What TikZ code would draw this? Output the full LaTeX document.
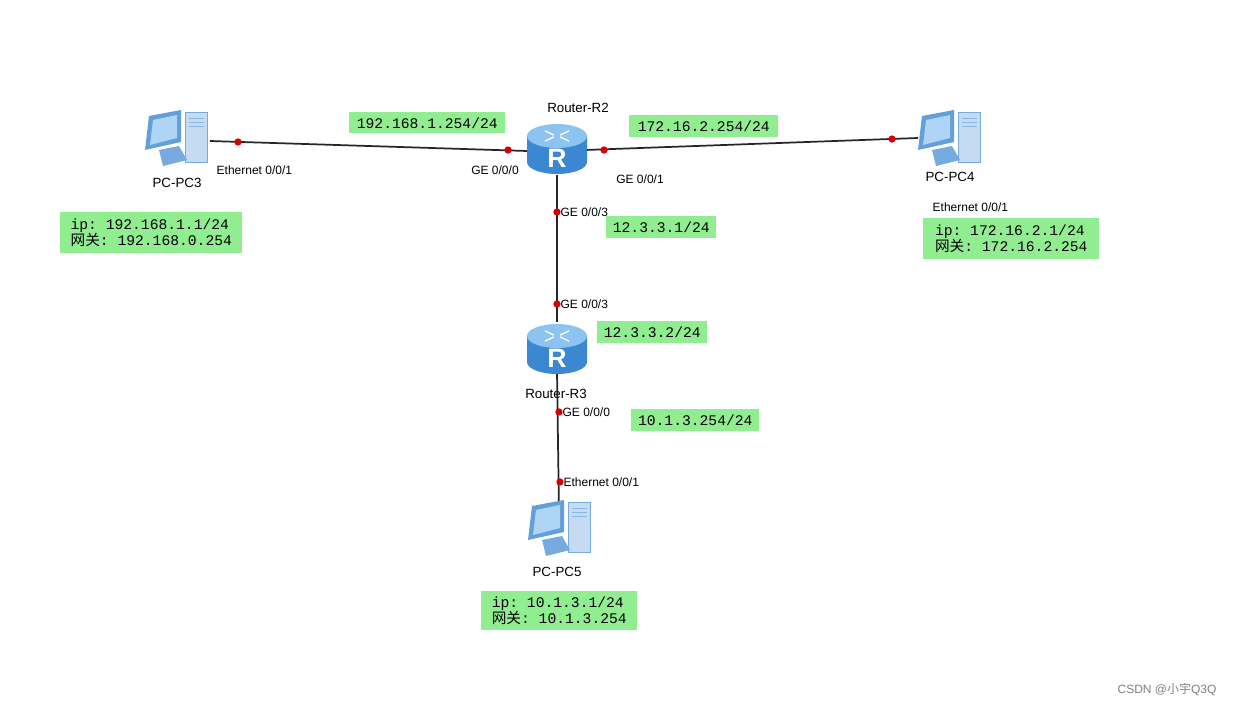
\documentclass[tikz,border=0pt]{standalone}
\usepackage{fontspec}
\setmainfont{Liberation Sans}
\setmonofont{Liberation Mono}
\newfontfamily\cjk{Noto Sans CJK SC}
\begin{document}
\begin{tikzpicture}[x=0.75pt,y=-0.75pt,
  lnk/.style={line width=1.3pt,black!85},
  dot/.style={circle,fill=red!85!black,inner sep=0pt,minimum size=5.5pt},
  port/.style={font=\fontsize{9}{10}\selectfont},
  nm/.style={font=\fontsize{10}{11}\selectfont},
  ipb/.style={fill=cgreen,inner sep=2pt,font=\fontsize{11}{12}\ttfamily\selectfont,align=left},
]
\definecolor{cgreen}{RGB}{144,238,144}
\definecolor{rblue}{RGB}{60,135,210}
\definecolor{rtop}{RGB}{140,195,240}
\useasboundingbox (0,0) rectangle (1238,706);
\tikzset{
 pc/.pic={
  \fill[rblue!30] (8,-28) rectangle (30,22);
  \draw[rblue!70,line width=0.4pt] (8,-28) rectangle (30,22);
  \foreach \yy in {-22,-18,-14} \draw[rblue!60] (12,\yy)--(27,\yy);
  \fill[rblue!80] (-28,-24) -- (4,-30) -- (4,2) -- (-32,10) -- cycle;
  \fill[rtop!70!white] (-24,-20) -- (0,-25) -- (0,-2) -- (-27,5) -- cycle;
  \fill[rblue!70] (-18,10) -- (2,6) -- (10,20) -- (-14,26) -- cycle;
 },
 router/.pic={
  \fill[rblue] (-30,-12) -- (-30,14) arc[start angle=180,end angle=0,x radius=30,y radius=12] -- (30,-12) -- cycle;
  \fill[rtop] (0,-12) ellipse[x radius=30,y radius=12];
  \draw[white,line width=1pt] (-12,-17)--(-3,-13) (12,-17)--(3,-13) (-12,-7)--(-3,-11) (12,-7)--(3,-11);
  \node[white,font=\bfseries\fontsize{20}{20}\selectfont] at (0,10) {R};
 }}
% nodes
\node[minimum width=60pt,minimum height=44pt] (pc3) at (177,140) {};
\pic at (177,140) {pc};
\node[nm] (pc3l) at (177,183) {PC-PC3};
\node[minimum width=44pt,minimum height=38pt] (r2) at (557,148) {};
\node[nm] (r2l) at (578,108) {Router-R2};
\node[minimum width=60pt,minimum height=44pt] (pc4) at (950,140) {};
\pic at (950,140) {pc};
\node[nm] (pc4l) at (950,177) {PC-PC4};
\node[minimum width=44pt,minimum height=38pt] (r3) at (557,348) {};
\node[nm] (r3l) at (556,394) {Router-R3};
\node[minimum width=60pt,minimum height=44pt] (pc5) at (560,530) {};
\node[nm] (pc5l) at (557,572) {PC-PC5};
% link end coords
\coordinate (a1) at (210,141); \coordinate (a2) at (527,151);
\coordinate (b1) at (585,150); \coordinate (b2) at (918,138);
\coordinate (c1) at (557,175); \coordinate (c2) at (557,322);
\coordinate (d1) at (557,372); \coordinate (d2) at (559,513);
\draw[lnk] (a1)--(a2); \draw[lnk] (b1)--(b2);
\draw[lnk] (c1)--(c2); \draw[lnk] (d1)--(d2);
\pic at (557,148) {router};
\pic at (557,348) {router};
\pic at (560,530) {pc};
\node[dot] (p1) at (238,142) {}; \node[dot] (p2) at (508,150) {};
\node[dot] (p3) at (604,150) {}; \node[dot] (p4) at (892,139) {};
\node[dot] (p5) at (557,212) {}; \node[dot] (p6) at (557,304) {};
\node[dot] (p7) at (559,412) {}; \node[dot] (p8) at (560,482) {};
% port labels
\node[port,anchor=west] (l1) at (212,170) {Ethernet 0/0/1};
\node[port] (l2) at (495,170) {GE 0/0/0};
\node[port] (l3) at (640,179) {GE 0/0/1};
\node[port,anchor=west,inner sep=1pt] (l4) at (559,212) {GE 0/0/3};
\node[port,anchor=west,inner sep=1pt] (l5) at (559,304) {GE 0/0/3};
\node[port,anchor=west,inner sep=1pt] (l6) at (561,412) {GE 0/0/0};
\node[port,anchor=west,inner sep=1pt] (l7) at (562,482) {Ethernet 0/0/1};
\node[port,anchor=west] (l8) at (928,207) {Ethernet 0/0/1};
% ip boxes
\node[ipb,anchor=north west,minimum width=156*0.75pt,minimum height=21*0.75pt] (i1) at (349,112) {192.168.1.254/24};
\node[ipb,anchor=north west,minimum width=149*0.75pt,minimum height=22*0.75pt] (i2) at (629,115) {172.16.2.254/24};
\node[ipb,anchor=north west,minimum width=110*0.75pt,minimum height=22*0.75pt] (i3) at (606,216) {12.3.3.1/24};
\node[ipb,anchor=north west,minimum width=110*0.75pt,minimum height=22*0.75pt] (i4) at (597,321) {12.3.3.2/24};
\node[ipb,anchor=north west,minimum width=128*0.75pt,minimum height=22*0.75pt] (i5) at (631,409) {10.1.3.254/24};
\node[ipb,anchor=north west,minimum width=182*0.75pt,minimum height=41*0.75pt,inner sep=1pt] (i6) at (60,212) {ip: 192.168.1.1/24\\{\cjk 网关}: 192.168.0.254};
\node[ipb,anchor=north west,minimum width=176*0.75pt,minimum height=41*0.75pt,inner sep=1pt] (i7) at (923,218) {ip: 172.16.2.1/24\\{\cjk 网关}: 172.16.2.254};
\node[ipb,anchor=north west,minimum width=156*0.75pt,minimum height=39*0.75pt,inner sep=1pt] (i8) at (481,591) {ip: 10.1.3.1/24\\{\cjk 网关}: 10.1.3.254};
\node[gray,font=\fontsize{9}{10}\selectfont] (wm) at (1167,690) {CSDN @{\cjk 小宇}Q3Q};
\end{tikzpicture}
\end{document}
